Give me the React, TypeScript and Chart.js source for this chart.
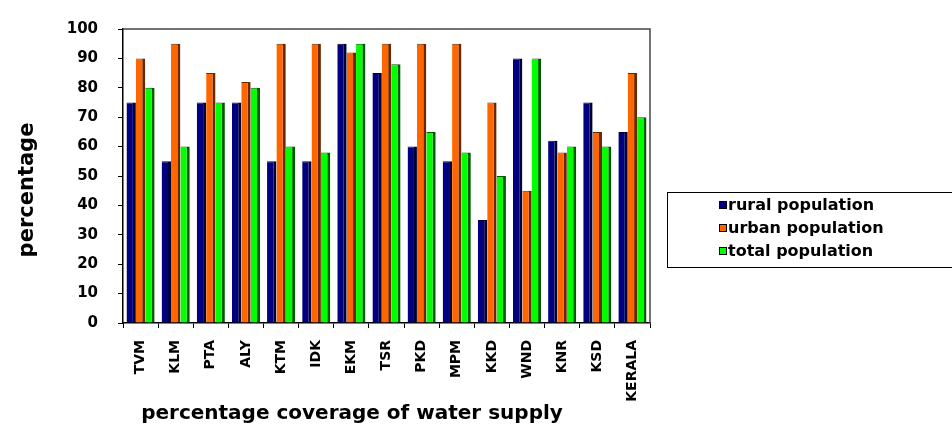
import React, { useEffect, useRef } from "react";
import { Chart, registerables } from "chart.js";

Chart.register(...registerables);

const categories = ["TVM", "KLM", "PTA", "ALY", "KTM", "IDK", "EKM", "TSR", "PKD", "MPM", "KKD", "WND", "KNR", "KSD", "KERALA"];
const rural = [75, 55, 75, 75, 55, 55, 95, 85, 60, 55, 35, 90, 62, 75, 65];
const urban = [90, 95, 85, 82, 95, 95, 92, 95, 95, 95, 75, 45, 58, 65, 85];
const total = [80, 60, 75, 80, 60, 58, 95, 88, 65, 58, 50, 90, 60, 60, 70];
const seriesNames = ["rural population", "urban population", "total population"];
const yTicks = [0, 10, 20, 30, 40, 50, 60, 70, 80, 90, 100];
const xTitle = "percentage coverage of water supply";
const yTitle = "percentage";

const FONT = "'DejaVu Sans', Arial, sans-serif";

const borderPlugin = {
  id: "plotBorder",
  afterDraw(chart: any) {
    const { ctx, chartArea } = chart;
    ctx.save();
    ctx.strokeStyle = "#444";
    ctx.lineWidth = 1.5;
    ctx.beginPath();
    ctx.moveTo(chartArea.left, chartArea.top);
    ctx.lineTo(chartArea.right, chartArea.top);
    ctx.lineTo(chartArea.right, chartArea.bottom);
    ctx.stroke();
    ctx.restore();
  },
};

const titlesPlugin = {
  id: "axisTitles",
  afterDraw(chart: any) {
    const { ctx } = chart;
    ctx.save();
    ctx.fillStyle = "#000";
    ctx.textAlign = "center";
    ctx.textBaseline = "middle";
    ctx.font = `bold 20px ${FONT}`;
    ctx.fillText(xTitle, 352, 414);
    ctx.translate(28, 190);
    ctx.rotate(-Math.PI / 2);
    ctx.font = `bold 21px ${FONT}`;
    ctx.fillText(yTitle, 0, 0);
    ctx.restore();
  },
};

const legendPlugin = {
  id: "boxLegend",
  afterDraw(chart: any) {
    const { ctx } = chart;
    ctx.save();
    ctx.strokeStyle = "#000";
    ctx.lineWidth = 1;
    ctx.strokeRect(667.5, 192.5, 300, 75);
    ctx.font = `bold 16px ${FONT}`;
    ctx.textBaseline = "middle";
    ctx.textAlign = "left";
    chart.data.datasets.forEach((ds: any, i: number) => {
      const y = 205 + i * 23;
      ctx.fillStyle = ds.backgroundColor;
      ctx.fillRect(719, y - 4, 8, 8);
      ctx.strokeStyle = "#000";
      ctx.strokeRect(719.5, y - 3.5, 7, 7);
      ctx.fillStyle = "#000";
      ctx.fillText(ds.label, 728, y + 1);
    });
    ctx.restore();
  },
};

export default function App() {
  const ref = useRef<HTMLCanvasElement>(null);
  useEffect(() => {
    if (!ref.current) return;
    const mk = (label: string, data: number[], fill: string, side: string) => ({
      label,
      data,
      backgroundColor: fill,
      borderColor: side,
      borderWidth: { top: 1, right: 3, left: 0, bottom: 0 },
      borderSkipped: false,
      categoryPercentage: 0.8,
      barPercentage: 1.0,
    });
    const chart = new Chart(ref.current, {
      type: "bar",
      data: {
        labels: categories,
        datasets: [
          mk(seriesNames[0], rural, "#000080", "#000033"),
          mk(seriesNames[1], urban, "#FF6600", "#6a2800"),
          mk(seriesNames[2], total, "#00FF00", "#005a00"),
        ],
      },
      options: {
        responsive: false,
        animation: false,
        layout: { padding: { left: 0, top: 24, right: 302, bottom: 0 } },
        plugins: { legend: { display: false }, tooltip: { enabled: false } },
        scales: {
          x: {
            grid: { drawOnChartArea: false, drawTicks: true, tickLength: 5, color: "#000", offset: true },
            border: { display: true, color: "#000", width: 1.5 },
            ticks: {
              color: "#000",
              font: { family: FONT, size: 14, weight: "bold" },
              minRotation: 90,
              maxRotation: 90,
              padding: 12,
              autoSkip: false,
            },
            afterFit(scale: any) {
              scale.height = 107;
            },
          },
          y: {
            min: 0,
            max: 100,
            afterBuildTicks(scale: any) {
              scale.ticks = yTicks.map((v) => ({ value: v }));
            },
            grid: { drawOnChartArea: false, drawTicks: true, tickLength: 5, color: "#000" },
            border: { display: true, color: "#000", width: 1.5 },
            ticks: {
              color: "#000",
              font: { family: FONT, size: 15, weight: "bold" },
              padding: 20,
            },
            afterFit(scale: any) {
              scale.width = 123;
            },
          },
        },
      },
      plugins: [borderPlugin, titlesPlugin, legendPlugin],
    });
    return () => chart.destroy();
  }, []);
  return (
    <div style={{ position: "absolute", left: 0, top: 0, width: 952, height: 430, background: "#fff" }}>
      <canvas ref={ref} width={952} height={430} />
    </div>
  );
}
